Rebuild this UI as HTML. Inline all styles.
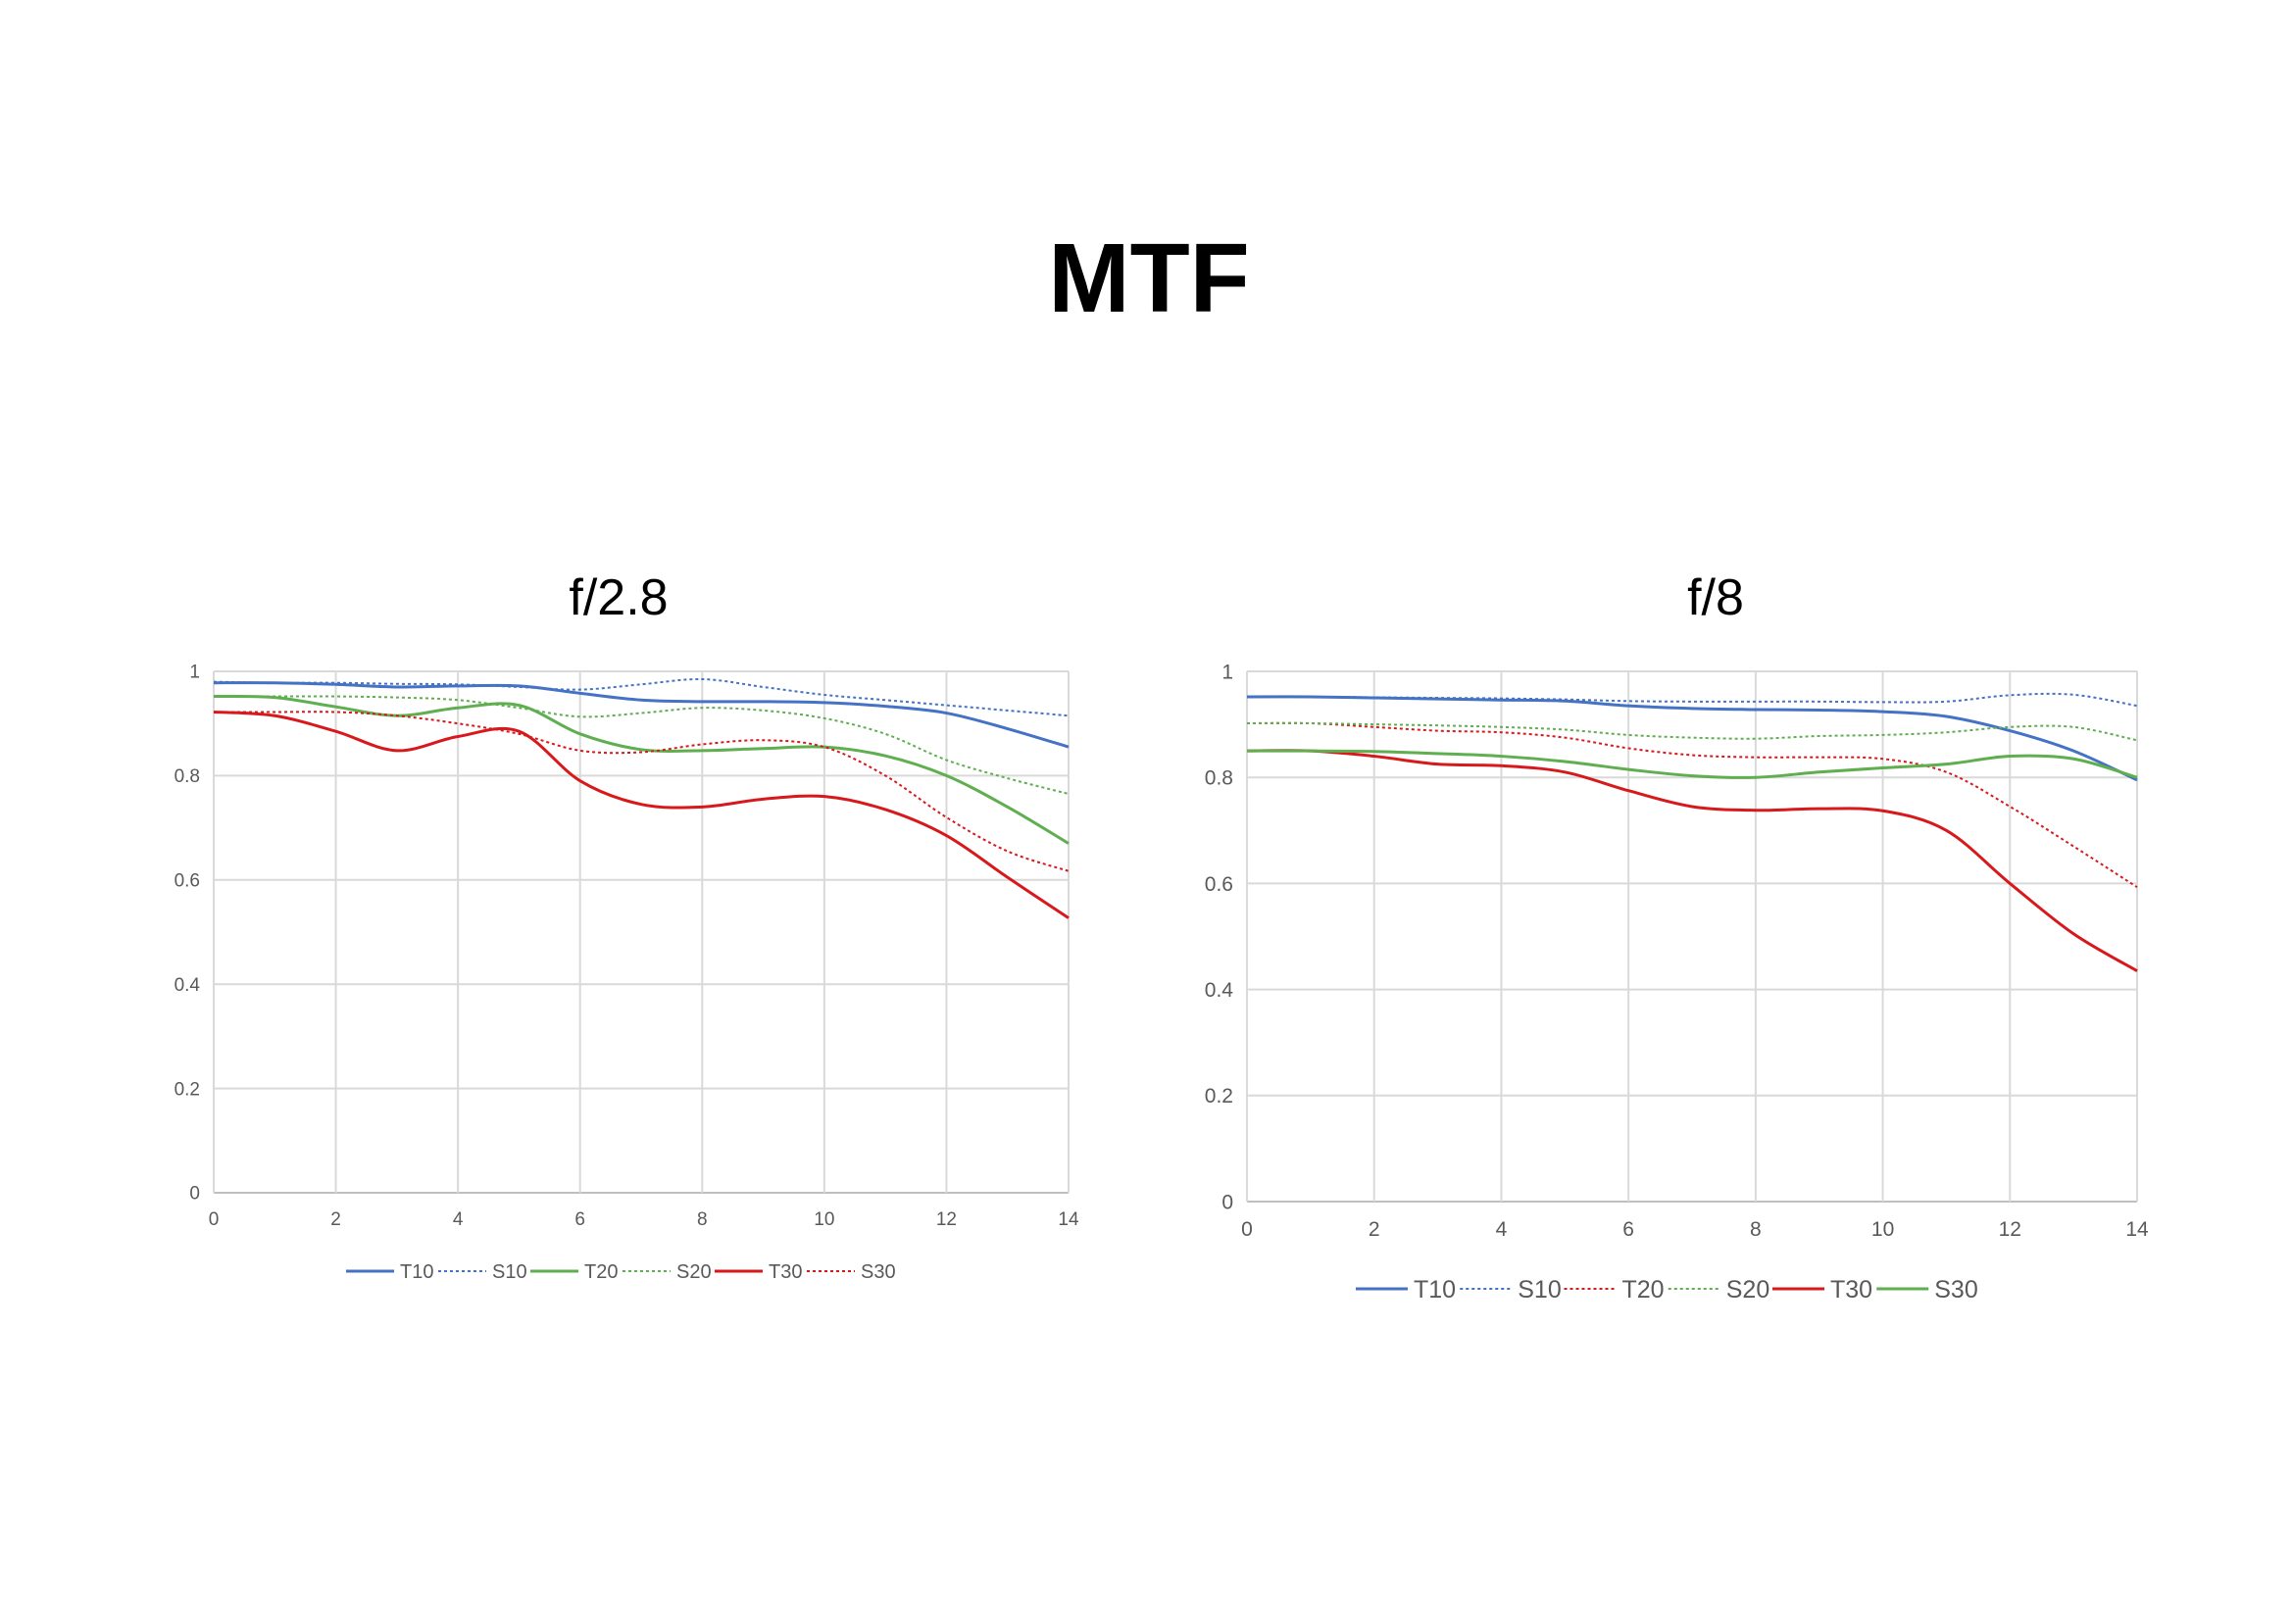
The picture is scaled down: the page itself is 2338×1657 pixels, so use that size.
<!DOCTYPE html>
<html><head><meta charset="utf-8"><style>
html,body{margin:0;padding:0;background:#fff;}
body{width:2338px;height:1652px;overflow:hidden;font-family:"Liberation Sans",sans-serif;}
</style></head><body>
<svg id="svg" width="2338" height="1652" xmlns="http://www.w3.org/2000/svg">
<text x="1172" y="318" text-anchor="middle" font-size="100" font-weight="bold" font-family="Liberation Sans, sans-serif">MTF</text>
<text x="631" y="627" text-anchor="middle" font-size="52" font-family="Liberation Sans, sans-serif">f/2.8</text>
<text x="1750" y="627" text-anchor="middle" font-size="52" font-family="Liberation Sans, sans-serif">f/8</text>
<g id="c1"></g>
<g id="c2"></g>
</svg>
<script>
const xValues=[0,1,2,3,4,5,6,7,8,9,10,11,12,13,14];
const xTicks=[0,2,4,6,8,10,12,14];
const yTicks=[0,0.2,0.4,0.6,0.8,1];
const yTickLabels=["0","0.2","0.4","0.6","0.8","1"];
const a_T10=[0.978,0.978,0.975,0.970,0.972,0.972,0.958,0.945,0.942,0.942,0.940,0.933,0.920,0.890,0.855];
const a_S10=[0.980,0.978,0.978,0.976,0.975,0.970,0.965,0.975,0.985,0.970,0.955,0.945,0.935,0.925,0.915];
const a_T20=[0.952,0.950,0.932,0.915,0.930,0.935,0.880,0.850,0.848,0.852,0.855,0.838,0.800,0.740,0.670];
const a_S20=[0.952,0.952,0.952,0.950,0.945,0.930,0.913,0.920,0.930,0.925,0.910,0.880,0.830,0.795,0.765];
const a_T30=[0.922,0.915,0.885,0.848,0.875,0.885,0.790,0.745,0.740,0.755,0.760,0.735,0.685,0.605,0.527];
const a_S30=[0.922,0.922,0.922,0.915,0.900,0.880,0.848,0.845,0.860,0.868,0.855,0.800,0.720,0.655,0.617];
const b_T10=[0.952,0.952,0.950,0.948,0.946,0.944,0.935,0.930,0.928,0.927,0.924,0.915,0.888,0.850,0.795];
const b_S10=[0.952,0.952,0.951,0.950,0.949,0.947,0.944,0.943,0.943,0.943,0.942,0.943,0.955,0.956,0.935];
const b_T20=[0.902,0.902,0.895,0.888,0.885,0.875,0.855,0.842,0.838,0.838,0.835,0.810,0.745,0.670,0.593];
const b_S20=[0.902,0.902,0.900,0.898,0.895,0.890,0.880,0.875,0.873,0.878,0.880,0.885,0.895,0.895,0.870];
const b_T30=[0.850,0.850,0.840,0.825,0.822,0.810,0.775,0.745,0.738,0.741,0.737,0.700,0.600,0.505,0.435];
const b_S30=[0.850,0.850,0.849,0.845,0.840,0.830,0.815,0.803,0.800,0.810,0.818,0.825,0.840,0.835,0.800];
const BLUE="#4472c4",GREEN="#5fae4f",RED="#d7191c";
const NS="http://www.w3.org/2000/svg";
function mk(tag,attrs,parent){const e=document.createElementNS(NS,tag);for(const k in attrs)e.setAttribute(k,attrs[k]);parent.appendChild(e);return e;}
function path(pts){let d="M"+pts[0][0]+","+pts[0][1];for(let i=0;i<pts.length-1;i++){const p0=pts[Math.max(i-1,0)],p1=pts[i],p2=pts[i+1],p3=pts[Math.min(i+2,pts.length-1)];const t=1/6;d+=" C"+(p1[0]+(p2[0]-p0[0])*t)+","+(p1[1]+(p2[1]-p0[1])*t)+" "+(p2[0]-(p3[0]-p1[0])*t)+","+(p2[1]-(p3[1]-p1[1])*t)+" "+p2[0]+","+p2[1];}return d;}
function chart(g,L,R,T,B,fs,series,legX,legY,legFs,legLine){
  const sx=v=>L+(v-0)/(14-0)*(R-L), sy=v=>B-(v-0)/(1-0)*(B-T);
  yTicks.forEach((t,i)=>{const l=mk("line",{x1:L,x2:R,y1:sy(t),y2:sy(t),stroke:i==0?"#bfbfbf":"#d9d9d9","stroke-width":2},g);
    
    
    const tx=mk("text",{x:L-14,y:sy(t)+fs*0.35,"text-anchor":"end","font-size":fs,fill:"#595959"},g);tx.textContent=yTickLabels[i];
    
    });
  xTicks.forEach(t=>{const l=mk("line",{x1:sx(t),x2:sx(t),y1:T,y2:B,stroke:"#d9d9d9","stroke-width":2},g);
    
    
    const tx=mk("text",{x:sx(t),y:B+fs+14,"text-anchor":"middle","font-size":fs,fill:"#595959"},g);tx.textContent=String(t);
    
    });
  series.forEach(s=>{const p=mk("path",{d:path(xValues.map((x,i)=>[sx(x),sy(s.v[i])])),fill:"none",stroke:s.c,"stroke-width":s.dot?2:3,"stroke-dasharray":s.dot?"3,3":"none"},g);
    
    });
  let x=legX;
  series.forEach(s=>{const l=mk("line",{x1:x,x2:x+legLine,y1:legY,y2:legY,stroke:s.c,"stroke-width":s.dot?2:3,"stroke-dasharray":s.dot?"3,3":"none"},g);
    
    
    const tx=mk("text",{x:x+legLine+6,y:legY+legFs*0.36,"font-size":legFs,fill:"#595959"},g);tx.textContent=s.n;
    
    
    x+=legLine+12+legFs*1.65;});
}
chart(document.getElementById("c1"),218,1090,685,1217,19,[
 {n:"T10",v:a_T10,c:BLUE},{n:"S10",v:a_S10,c:BLUE,dot:1},{n:"T20",v:a_T20,c:GREEN},{n:"S20",v:a_S20,c:GREEN,dot:1},{n:"T30",v:a_T30,c:RED},{n:"S30",v:a_S30,c:RED,dot:1}],353,1297,20,49);
chart(document.getElementById("c2"),1272,2180,685,1226,21,[
 {n:"T10",v:b_T10,c:BLUE},{n:"S10",v:b_S10,c:BLUE,dot:1},{n:"T20",v:b_T20,c:RED,dot:1},{n:"S20",v:b_S20,c:GREEN,dot:1},{n:"T30",v:b_T30,c:RED},{n:"S30",v:b_S30,c:GREEN}],1383,1315,25,53);
</script>
</body></html>
